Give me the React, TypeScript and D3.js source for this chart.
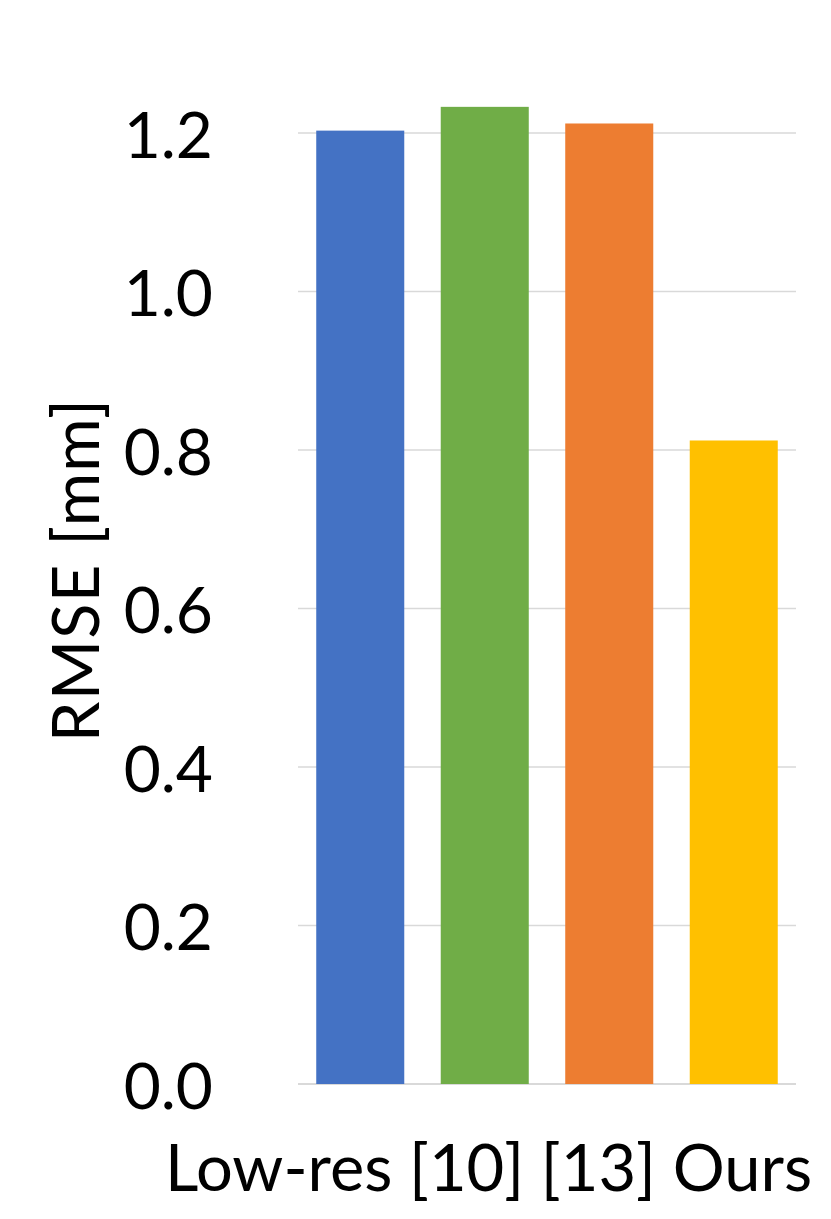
import React from "react";
import * as d3 from "d3";

const categories = ["Low-res", "[10]", "[13]", "Ours"];
const values = [1.203, 1.233, 1.212, 0.812];
const colors = ["#4472C4", "#70AD47", "#ED7D31", "#FFC000"];
const yTicks = [0, 0.2, 0.4, 0.6, 0.8, 1.0, 1.2];
const yLabel = "RMSE [mm]";

const W = 831;
const H = 1219;
const FONT = "Lato, 'Open Sans', sans-serif";

export default function App() {
  const x = d3
    .scaleBand<string>()
    .domain(categories)
    .range([298, 796])
    .paddingInner(0.293)
    .paddingOuter(0.1465);
  const y = d3.scaleLinear().domain([0, 1.2]).range([1084, 133]);

  return (
    <div style={{ position: "absolute", left: 0, top: 0 }}>
      <svg width={W} height={H} style={{ display: "block", background: "#fff" }}>
        {yTicks.map((t) => (
          <g key={t}>
            <line
              x1={298}
              x2={796}
              y1={y(t)}
              y2={y(t)}
              stroke="#d9d9d9"
              strokeWidth={t === 0 ? 2 : 1.3}
            />
            <text
              x={213}
              y={y(t)}
              textAnchor="end"
              dominantBaseline="central"
              fontFamily={FONT}
              fontSize={64}
              fill="#000"
            >
              {d3.format(".1f")(t)}
            </text>
          </g>
        ))}
        {categories.map((c, i) => (
          <rect
            key={c}
            x={x(c)}
            y={y(values[i])}
            width={x.bandwidth()}
            height={y(0) - y(values[i])}
            fill={colors[i]}
          />
        ))}
        <text
          x={165}
          y={1191}
          fontFamily={FONT}
          fontSize={65}
          fill="#000"
        >
          {categories.join(" ")}
        </text>
        <text
          transform={`translate(99, 570) rotate(-90)`}
          textAnchor="middle"
          fontFamily={FONT}
          fontSize={65}
          letterSpacing={1.2}
          fill="#000"
        >
          {yLabel}
        </text>
      </svg>
    </div>
  );
}
